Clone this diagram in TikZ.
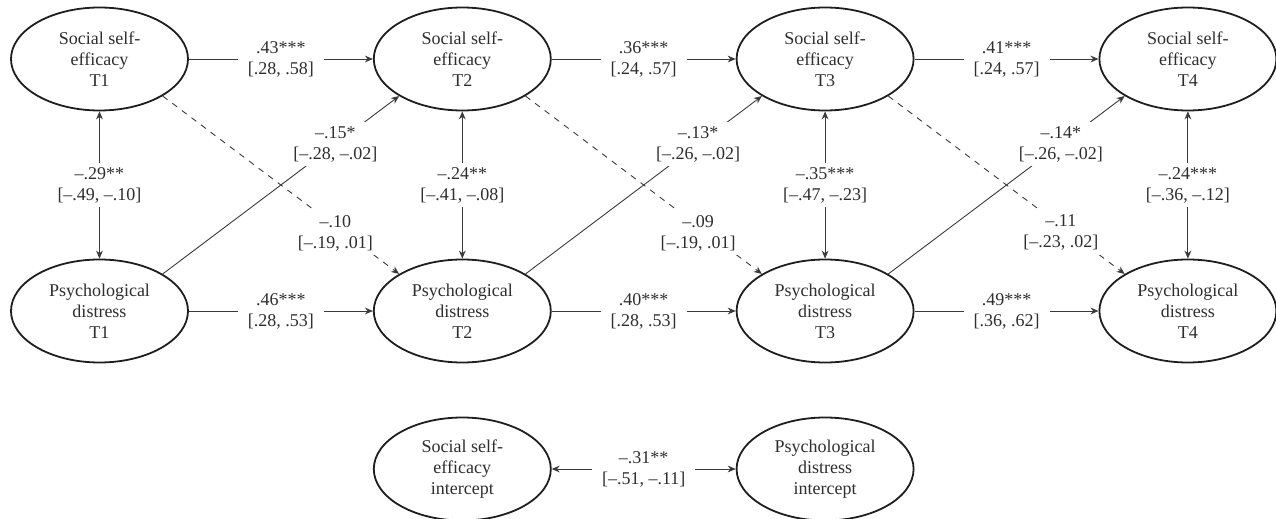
\documentclass[tikz,border=0pt]{standalone}
\usepackage{fontspec}
\setmainfont{Liberation Serif}
\usepackage{xcolor}
\definecolor{semInk}{HTML}{1E1E1E}
\definecolor{semLine}{HTML}{3A3A3A}
\definecolor{semText}{HTML}{2E2E2E}
\usetikzlibrary{shapes.geometric,arrows.meta,positioning}
\tikzset{
    latent/.style={
        draw=semInk,
        ellipse,
        line width=0.9pt,
        minimum width=88.5pt,
        minimum height=51.5pt,
        inner sep=0pt,
        align=center,
        text=semText,
        font=\fontsize{9}{10.5}\selectfont
    },
    effect/.style={
        -{Stealth[length=4pt,width=3.4pt]},
        line width=0.45pt,
        color=semLine
    },
    covar/.style={
        {Stealth[length=4pt,width=3.4pt]}-{Stealth[length=4pt,width=3.4pt]},
        line width=0.45pt,
        color=semLine
    },
    coef/.style={
        font=\fontsize{9}{10.5}\selectfont,
        text=semText,
        midway,
        fill=white,
        align=center,
        inner xsep=5pt,
        inner ysep=2pt
    }
}
\begin{document}
\begin{tikzpicture}[node distance=73.6pt and 92pt]
    \useasboundingbox (-49.75pt,29.5pt) rectangle (588.25pt,-230pt);
    \node[latent] (sse1) at (0,0) {Social self-\\efficacy\\T1};
    \node[latent, right=of sse1] (sse2) {Social self-\\efficacy\\T2};
    \node[latent, right=of sse2] (sse3) {Social self-\\efficacy\\T3};
    \node[latent, right=of sse3] (sse4) {Social self-\\efficacy\\T4};
    \node[latent, below=of sse1] (psd1) {Psychological\\distress\\T1};
    \node[latent, below=of sse2] (psd2) {Psychological\\distress\\T2};
    \node[latent, below=of sse3] (psd3) {Psychological\\distress\\T3};
    \node[latent, below=of sse4] (psd4) {Psychological\\distress\\T4};
    \node[latent, below=26.6pt of psd2] (sseint) {Social self-\\efficacy\\intercept};
    \node[latent, below=26.6pt of psd3] (psdint) {Psychological\\distress\\intercept};

    \draw[effect] (sse1) -- node[coef] {.43***\\{}[.28, .58]} (sse2);
    \draw[effect] (sse2) -- node[coef] {.36***\\{}[.24, .57]} (sse3);
    \draw[effect] (sse3) -- node[coef] {.41***\\{}[.24, .57]} (sse4);
    \draw[effect] (psd1) -- node[coef] {.46***\\{}[.28, .53]} (psd2);
    \draw[effect] (psd2) -- node[coef] {.40***\\{}[.28, .53]} (psd3);
    \draw[effect] (psd3) -- node[coef] {.49***\\{}[.36, .62]} (psd4);

    \draw[covar] (sse1) -- node[coef] {--.29**\\{}[--.49, --.10]} (psd1);
    \draw[covar] (sse2) -- node[coef] {--.24**\\{}[--.41, --.08]} (psd2);
    \draw[covar] (sse3) -- node[coef] {--.35***\\{}[--.47, --.23]} (psd3);
    \draw[covar] (sse4) -- node[coef] {--.24***\\{}[--.36, --.12]} (psd4);

    \draw[effect, dashed] (sse1.south east) -- node[coef, pos=.73, yshift=-3.5pt] {--.10\\{}[--.19, .01]} (psd2.north west);
    \draw[effect, dashed] (sse2.south east) -- node[coef, pos=.73, yshift=-3.5pt] {--.09\\{}[--.19, .01]} (psd3.north west);
    \draw[effect, dashed] (sse3.south east) -- node[coef, pos=.73, yshift=-3.5pt] {--.11\\{}[--.23, .02]} (psd4.north west);
    \draw[effect] (psd1.north east) -- node[coef, pos=.73] {--.15*\\{}[--.28, --.02]} (sse2.south west);
    \draw[effect] (psd2.north east) -- node[coef, pos=.73] {--.13*\\{}[--.26, --.02]} (sse3.south west);
    \draw[effect] (psd3.north east) -- node[coef, pos=.73] {--.14*\\{}[--.26, --.02]} (sse4.south west);

    \draw[covar] (sseint) -- node[coef] {--.31**\\{}[--.51, --.11]} (psdint);
\end{tikzpicture}
\end{document}
